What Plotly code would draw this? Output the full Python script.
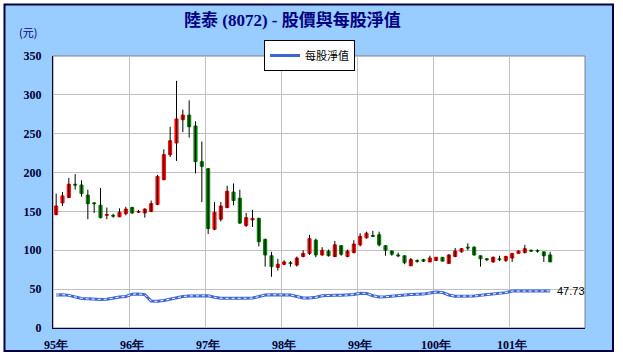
import plotly.graph_objects as go

# ---- data ----
months = [f"{95 + k // 12}/{k % 12 + 1:02d}" for k in range(79)]

opens = [146, 161, 168, 185, 184, 171, 161, 158, 145, 145, 143, 147,
         155, 149, 148, 150, 159, 191, 223, 238, 268, 274, 260, 214,
         205, 127, 140, 155, 175, 167, 132, 139, 141, 114, 93, 78,
         82, 84, 81, 92, 96, 113, 94, 99, 92, 106, 92, 97,
         107, 116, 119, 120, 106, 99, 94, 93, 80, 87, 88, 85,
         87, 91, 83, 92, 98, 104, 104, 93, 89, 85, 89, 87,
         90, 96, 97, 100, 100, 98, 94]
highs = [173, 175, 193, 198, 190, 178, 162, 180, 155, 147, 154, 156,
         156, 152, 154, 164, 197, 230, 259, 318, 281, 293, 266, 240,
         206, 162, 162, 183, 186, 178, 148, 152, 142, 115, 98, 89,
         87, 86, 92, 100, 120, 115, 104, 101, 112, 106, 101, 113,
         122, 124, 125, 124, 106, 100, 97, 93, 90, 88, 89, 93,
         91, 91, 95, 103, 103, 109, 105, 93, 90, 92, 93, 93,
         96, 100, 107, 101, 101, 98, 98]
lows = [145, 157, 167, 178, 169, 140, 148, 141, 140, 142, 143, 145,
        147, 148, 142, 149, 158, 190, 220, 215, 252, 245, 199, 162,
        121, 126, 137, 154, 158, 134, 130, 130, 105, 79, 66, 74,
        81, 79, 79, 91, 94, 91, 93, 92, 91, 93, 91, 96,
        105, 115, 117, 105, 93, 93, 91, 82, 80, 84, 85, 85,
        86, 86, 83, 91, 97, 100, 93, 79, 86, 84, 86, 85,
        85, 96, 96, 98, 97, 85, 85]
closes = [157, 170, 185, 184, 173, 160, 160, 142, 146, 144, 149, 153,
          148, 150, 153, 160, 195, 223, 241, 269, 274, 259, 214, 208,
          128, 149, 157, 176, 164, 135, 142, 141, 111, 94, 79, 82,
          85, 83, 90, 96, 115, 94, 100, 93, 107, 95, 99, 108,
          118, 122, 118, 107, 100, 95, 93, 84, 88, 86, 86, 90,
          91, 86, 94, 99, 102, 103, 94, 89, 88, 91, 88, 92,
          96, 99, 102, 99, 99, 93, 85]
nav = [42.5, 42.8, 42, 39.5, 38, 37.5, 37, 36.8, 37, 38.5, 40, 40.5,
       43.5, 43.8, 43, 34.8, 34.3, 35.5, 37.5, 38.5, 40.5, 41.3, 41.5, 41.3, 41.5,
       39.5, 38.3, 38.2, 38, 38.2, 38.3, 38.5, 40.5,
       42.5, 42.8, 42.6, 42.8, 42.5, 40.5, 38.6, 38.6, 39.5,
       41.5, 42, 42.2, 42, 42.3, 43,
       44.8, 44.5, 41.5, 40, 40.2, 41, 42.5, 43, 43.2, 43.5, 43.6, 45,
       46.2, 45.8, 42.5, 41, 40.8, 41, 41.2, 42, 43, 44, 44.5, 45.5,
       47.5, 47.7, 47.7, 47.7, 47.7, 47.7, 47.73]
year_ticks = [95, 96, 97, 98, 99, 100, 101]
year_labels = [f"{y}年" for y in year_ticks]
y_ticks = [0, 50, 100, 150, 200, 250, 300, 350]


def month_pos(m):
    y, mo = m.split("/")
    return int(y) + (int(mo) - 0.5) / 12


xs = [month_pos(m) for m in months]

wick_x, wick_y = [], []
for x, h, l in zip(xs, highs, lows):
    wick_x += [x, x, None]
    wick_y += [l, h, None]

fig = go.Figure()
fig.add_trace(go.Scatter(x=wick_x, y=wick_y, mode="lines",
                         line=dict(color="black", width=1),
                         showlegend=False, hoverinfo="skip"))
fig.add_trace(go.Candlestick(
    x=xs, open=opens, close=closes,
    high=[max(o, c) for o, c in zip(opens, closes)],
    low=[min(o, c) for o, c in zip(opens, closes)],
    increasing=dict(line=dict(color="#FF0000", width=1), fillcolor="#FF0000"),
    decreasing=dict(line=dict(color="#008000", width=1), fillcolor="#008000"),
    whiskerwidth=0, showlegend=False, hoverinfo="skip"))
# NAV line drawn as a chain: blue line with white dotted centre
fig.add_trace(go.Scatter(x=xs, y=nav, mode="lines", name="每股淨值",
                         line=dict(color="#3F66D6", width=3)))
fig.add_trace(go.Scatter(x=xs, y=nav, mode="lines", showlegend=False, hoverinfo="skip",
                         line=dict(color="white", width=1, dash="dot")))

fig.add_annotation(x=xs[-1], y=nav[-1], text=f"{nav[-1]:.2f}", showarrow=False,
                   xanchor="left", yanchor="middle", xshift=5,
                   font=dict(family="Liberation Sans", size=11, color="black"))
fig.add_annotation(xref="paper", yref="paper", x=0.451, y=1.132,
                   text="<b>陸泰 (8072) - 股價與每股淨值</b>", showarrow=False,
                   xanchor="center", yanchor="middle",
                   font=dict(family="Liberation Serif, Noto Sans CJK TC", size=17, color="#000080"))
fig.add_annotation(xref="paper", yref="paper", x=-0.047, y=1.088,
                   text="(元)", showarrow=False, xanchor="center", yanchor="middle",
                   font=dict(family="Noto Sans CJK TC", size=11, color="#000080"))

# outer frame and white plot area
fig.add_shape(type="rect", xref="paper", yref="paper",
              x0=-0.0912, x1=1.0526, y0=-0.0846, y1=1.1893,
              fillcolor="#99CCFF", line=dict(color="#000040", width=2), layer="below")
fig.add_shape(type="rect", xref="paper", yref="paper", x0=0, x1=1, y0=0, y1=1,
              fillcolor="white", line=dict(color="#808080", width=1), layer="below")

tick_font = dict(family="Liberation Serif", size=12, color="#000033", weight="bold")
fig.update_layout(
    width=623, height=358,
    margin=dict(l=53, r=38, t=56, b=30, autoexpand=False),
    paper_bgcolor="white", plot_bgcolor="white",
    showlegend=True,
    legend=dict(x=0.3966, y=1.0588, xanchor="left", yanchor="top",
                bgcolor="white", bordercolor="black", borderwidth=1,
                font=dict(family="Noto Sans CJK TC", size=11, color="black"),
                itemwidth=30),
    xaxis=dict(range=[95, 102], tickvals=year_ticks, ticktext=year_labels,
               showgrid=True, gridcolor="#C0C0C0", gridwidth=1,
               showline=True, linecolor="#000033", linewidth=1,
               ticks="", ticklabelstandoff=6, ticklabelshift=3,
               tickfont=tick_font, zeroline=False, automargin=False,
               rangeslider=dict(visible=False)),
    yaxis=dict(range=[0, 350], tickvals=y_ticks,
               showgrid=True, gridcolor="#C0C0C0", gridwidth=1,
               showline=True, linecolor="#000033", linewidth=1,
               ticks="", ticklabelstandoff=8, tickfont=tick_font, zeroline=False,
               automargin=False),
)

fig.write_html("out.html", config={"displayModeBar": False})
